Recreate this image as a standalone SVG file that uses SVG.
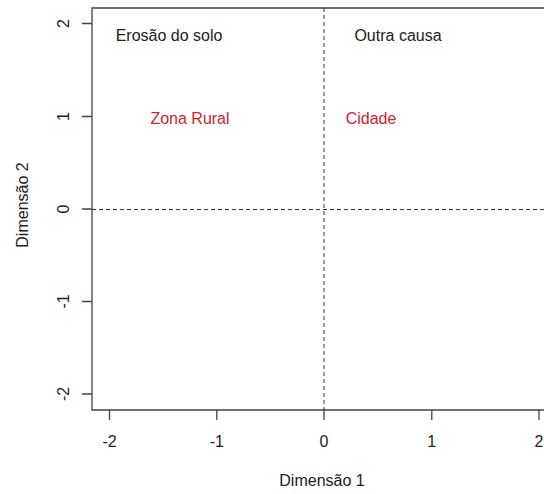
<svg xmlns="http://www.w3.org/2000/svg" width="544" height="494" viewBox="0 0 544 494">
<style>
text{font-family:"Liberation Sans",Arial,sans-serif;font-size:16px;fill:#222}
.red{fill:#d0222e}
.ax{stroke:#444;stroke-width:1.3;fill:none}
.dash{stroke:#333;stroke-width:1;stroke-dasharray:4 3;fill:none}
</style>
<rect width="544" height="494" fill="#fff"/>
<g id="frame">
<path class="ax" d="M560,8 H92 V410 H560"/>
<path class="ax" d="M109.5,410 v10 M216.8,410 v10 M324,410 v10 M431.8,410 v10 M539,410 v10"/>
<path class="ax" d="M92,23.5 h-10 M92,116.5 h-10 M92,209 h-10 M92,301.5 h-10 M92,394 h-10"/>
</g>
<g id="ticklabels">
<text x="109.5" y="447" text-anchor="middle">-2</text>
<text x="216.8" y="447" text-anchor="middle">-1</text>
<text x="324" y="447" text-anchor="middle">0</text>
<text x="431.8" y="447" text-anchor="middle">1</text>
<text x="539" y="447" text-anchor="middle">2</text>
<text transform="translate(69,23.5) rotate(-90)" text-anchor="middle">2</text>
<text transform="translate(69,116.5) rotate(-90)" text-anchor="middle">1</text>
<text transform="translate(69,209) rotate(-90)" text-anchor="middle">0</text>
<text transform="translate(69,301.5) rotate(-90)" text-anchor="middle">-1</text>
<text transform="translate(69,394) rotate(-90)" text-anchor="middle">-2</text>
</g>
<g id="axis-titles">
<text x="322" y="486" text-anchor="middle">Dimensão 1</text>
<text transform="translate(28,205) rotate(-90)" text-anchor="middle">Dimensão 2</text>
</g>
<g id="connectors">
<path class="dash" d="M92,209.5 H544"/>
<path class="dash" d="M324,8 V410"/>
</g>
<g id="node-erosao"><text x="169" y="41" text-anchor="middle">Erosão do solo</text></g>
<g id="node-outra"><text x="398" y="41" text-anchor="middle">Outra causa</text></g>
<g id="node-zona"><text class="red" x="190" y="124" text-anchor="middle">Zona Rural</text></g>
<g id="node-cidade"><text class="red" x="371" y="124" text-anchor="middle">Cidade</text></g>
</svg>
